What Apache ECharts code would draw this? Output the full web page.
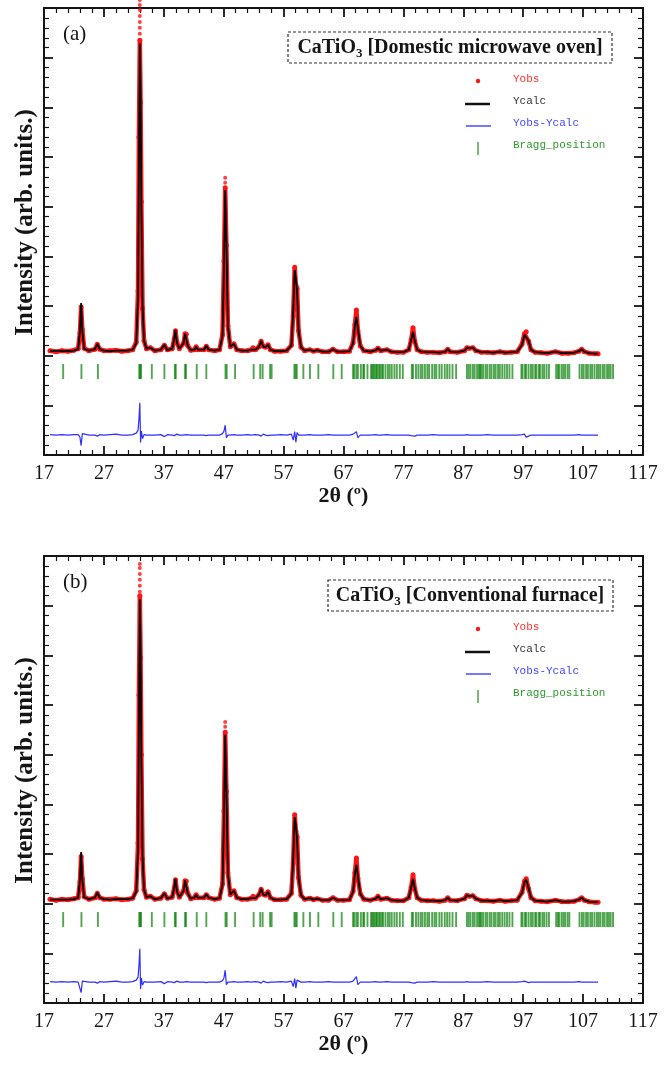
<!DOCTYPE html>
<html>
<head>
<meta charset="utf-8">
<title>CaTiO3 Rietveld refinement</title>
<script src="https://cdn.jsdelivr.net/npm/echarts@6/dist/echarts.min.js"></script>
<style>
  html, body { margin: 0; padding: 0; background: #fff; }
  #chart { width: 667px; height: 1065px; }
</style>
</head>
<body>
<div id="chart"></div>
<script>
// 2theta grid (deg) shared by both patterns
const twoTheta = [
  18.0, 19.0, 20.0, 21.0, 22.0, 22.7, 23.0, 23.2, 23.4, 23.7,
  24.5, 25.5, 25.9, 26.3, 27.0, 28.0, 29.0, 30.0, 31.0, 31.8,
  32.4, 32.7, 32.85, 33.0, 33.12, 33.25, 33.45, 33.7, 34.1, 34.75,
  35.5, 36.5, 37.1, 37.6, 38.4, 38.75, 38.95, 39.2, 39.6, 40.3,
  40.55, 40.75, 41.0, 41.5, 42.1, 42.4, 42.7, 43.7, 44.1, 44.5,
  45.5, 46.3, 46.8, 47.05, 47.25, 47.45, 47.7, 48.1, 48.7, 49.2,
  50.0, 51.0, 51.6, 51.9, 52.3, 52.9, 53.25, 53.6, 54.0, 54.4,
  54.8, 55.5, 56.5, 57.5, 58.3, 58.6, 58.85, 59.05, 59.25, 59.5,
  59.9, 60.5, 61.4, 62.0, 62.6, 63.5, 64.5, 65.25, 66.0, 67.0,
  68.0, 68.6, 68.9, 69.15, 69.4, 69.8, 70.4, 71.5, 72.4, 72.75,
  73.2, 74.25, 75.0, 76.0, 77.0, 77.9, 78.3, 78.6, 78.9, 79.3,
  80.0, 81.0, 82.0, 83.0, 84.0, 84.4, 84.8, 86.0, 87.2, 87.6,
  88.0, 88.6, 89.1, 90.0, 91.0, 92.0, 93.1, 94.0, 95.0, 96.0,
  96.8, 97.2, 97.5, 97.9, 98.3, 99.0, 100.0, 101.0, 102.4, 103.5,
  104.5, 105.5, 106.3, 106.75, 107.2, 108.0, 109.0, 109.5
];

// (a) domestic microwave oven
const yCalcA = [
  2.09, 2.09, 2.09, 2.09, 2.10, 2.13, 2.50, 3.06, 2.50, 2.14,
  2.10, 2.13, 2.24, 2.13, 2.10, 2.09, 2.10, 2.10, 2.10, 2.12,
  2.25, 3.20, 6.00, 8.29, 7.40, 5.00, 3.00, 2.30, 2.14, 2.16,
  2.10, 2.12, 2.22, 2.11, 2.14, 2.35, 2.52, 2.25, 2.14, 2.25,
  2.45, 2.42, 2.20, 2.11, 2.12, 2.18, 2.12, 2.12, 2.20, 2.12,
  2.10, 2.12, 2.40, 3.80, 5.33, 4.30, 2.60, 2.18, 2.24, 2.12,
  2.10, 2.10, 2.12, 2.16, 2.12, 2.18, 2.30, 2.18, 2.17, 2.22,
  2.12, 2.09, 2.09, 2.10, 2.20, 2.90, 3.72, 3.55, 3.30, 2.50,
  2.17, 2.10, 2.12, 2.09, 2.11, 2.08, 2.08, 2.13, 2.08, 2.08,
  2.09, 2.25, 2.60, 2.78, 2.55, 2.20, 2.10, 2.08, 2.11, 2.15,
  2.10, 2.12, 2.08, 2.07, 2.07, 2.12, 2.32, 2.48, 2.30, 2.12,
  2.08, 2.07, 2.07, 2.06, 2.08, 2.13, 2.08, 2.07, 2.10, 2.16,
  2.15, 2.16, 2.10, 2.07, 2.07, 2.06, 2.08, 2.06, 2.07, 2.08,
  2.22, 2.42, 2.46, 2.30, 2.12, 2.07, 2.06, 2.05, 2.08, 2.05,
  2.05, 2.06, 2.09, 2.13, 2.08, 2.05, 2.04, 2.04
];
const yObsA = [
  2.10, 2.08, 2.10, 2.09, 2.11, 2.14, 2.46, 2.98, 2.52, 2.15,
  2.10, 2.13, 2.23, 2.13, 2.10, 2.10, 2.11, 2.09, 2.10, 2.12,
  2.27, 3.30, 6.40, 8.35, 7.10, 5.10, 2.95, 2.30, 2.14, 2.16,
  2.10, 2.12, 2.21, 2.12, 2.14, 2.34, 2.50, 2.26, 2.14, 2.25,
  2.44, 2.43, 2.20, 2.11, 2.12, 2.18, 2.12, 2.12, 2.19, 2.12,
  2.10, 2.12, 2.42, 3.90, 5.38, 4.22, 2.60, 2.18, 2.24, 2.12,
  2.10, 2.10, 2.12, 2.16, 2.12, 2.18, 2.29, 2.19, 2.17, 2.22,
  2.12, 2.09, 2.09, 2.10, 2.21, 2.80, 3.78, 3.42, 3.35, 2.50,
  2.17, 2.10, 2.12, 2.09, 2.11, 2.08, 2.08, 2.13, 2.08, 2.08,
  2.09, 2.26, 2.62, 2.92, 2.50, 2.20, 2.10, 2.08, 2.11, 2.15,
  2.10, 2.12, 2.08, 2.07, 2.07, 2.12, 2.32, 2.56, 2.29, 2.12,
  2.08, 2.07, 2.07, 2.06, 2.08, 2.13, 2.08, 2.07, 2.10, 2.16,
  2.15, 2.16, 2.10, 2.07, 2.07, 2.06, 2.08, 2.06, 2.07, 2.08,
  2.23, 2.44, 2.48, 2.29, 2.12, 2.07, 2.06, 2.05, 2.08, 2.05,
  2.05, 2.06, 2.09, 2.13, 2.08, 2.05, 2.04, 2.04
];
// observed points stacked above the two strongest peak tops
const obsTopA = [
  [33.0, 8.48], [33.0, 8.60], [33.0, 8.72], [33.0, 8.84], [33.0, 8.96], [33.0, 9.06], [33.0, 9.16],
  [47.25, 5.48], [47.25, 5.58]
];
const yDiffA = [
  0.41, 0.40, 0.41, 0.40, 0.41, 0.41, 0.36, 0.19, 0.43, 0.41,
  0.40, 0.40, 0.38, 0.41, 0.40, 0.41, 0.42, 0.40, 0.40, 0.41,
  0.44, 0.50, 0.72, 1.05, 0.25, 0.48, 0.33, 0.41, 0.40, 0.40,
  0.40, 0.41, 0.37, 0.41, 0.40, 0.39, 0.36, 0.42, 0.40, 0.40,
  0.38, 0.41, 0.40, 0.40, 0.40, 0.41, 0.40, 0.40, 0.39, 0.40,
  0.40, 0.40, 0.43, 0.48, 0.60, 0.35, 0.40, 0.40, 0.41, 0.40,
  0.40, 0.41, 0.40, 0.40, 0.41, 0.40, 0.38, 0.42, 0.40, 0.39,
  0.40, 0.40, 0.41, 0.40, 0.42, 0.30, 0.47, 0.26, 0.45, 0.40,
  0.40, 0.40, 0.41, 0.40, 0.40, 0.40, 0.41, 0.40, 0.40, 0.40,
  0.40, 0.42, 0.43, 0.47, 0.35, 0.40, 0.40, 0.40, 0.41, 0.40,
  0.40, 0.41, 0.40, 0.40, 0.40, 0.40, 0.39, 0.42, 0.38, 0.40,
  0.40, 0.40, 0.41, 0.40, 0.40, 0.40, 0.40, 0.40, 0.40, 0.41,
  0.40, 0.40, 0.40, 0.40, 0.41, 0.40, 0.40, 0.40, 0.40, 0.40,
  0.41, 0.42, 0.36, 0.38, 0.40, 0.40, 0.40, 0.40, 0.40, 0.40,
  0.40, 0.40, 0.41, 0.40, 0.40, 0.40, 0.40, 0.40
];

// (b) conventional furnace
const yCalcB = [
  2.08, 2.08, 2.08, 2.08, 2.09, 2.12, 2.48, 3.04, 2.48, 2.13,
  2.09, 2.12, 2.22, 2.12, 2.09, 2.08, 2.09, 2.09, 2.09, 2.11,
  2.24, 3.10, 5.80, 8.13, 7.20, 4.90, 2.95, 2.28, 2.13, 2.15,
  2.09, 2.11, 2.21, 2.10, 2.13, 2.33, 2.50, 2.24, 2.13, 2.26,
  2.47, 2.44, 2.21, 2.10, 2.12, 2.18, 2.12, 2.12, 2.19, 2.12,
  2.09, 2.11, 2.38, 3.75, 5.40, 4.35, 2.62, 2.18, 2.26, 2.12,
  2.09, 2.09, 2.11, 2.15, 2.11, 2.18, 2.30, 2.18, 2.17, 2.24,
  2.12, 2.08, 2.08, 2.09, 2.20, 2.92, 3.74, 3.58, 3.30, 2.52,
  2.17, 2.09, 2.11, 2.08, 2.10, 2.07, 2.07, 2.12, 2.07, 2.07,
  2.08, 2.24, 2.60, 2.78, 2.56, 2.20, 2.09, 2.07, 2.10, 2.15,
  2.09, 2.11, 2.07, 2.06, 2.06, 2.12, 2.33, 2.50, 2.31, 2.12,
  2.07, 2.06, 2.06, 2.05, 2.07, 2.12, 2.07, 2.06, 2.10, 2.17,
  2.15, 2.16, 2.10, 2.06, 2.06, 2.05, 2.07, 2.05, 2.06, 2.07,
  2.22, 2.43, 2.48, 2.31, 2.12, 2.06, 2.05, 2.04, 2.07, 2.04,
  2.04, 2.05, 2.08, 2.12, 2.07, 2.04, 2.03, 2.03
];
const yObsB = [
  2.09, 2.07, 2.09, 2.08, 2.10, 2.12, 2.44, 2.95, 2.50, 2.14,
  2.09, 2.12, 2.21, 2.12, 2.09, 2.09, 2.10, 2.08, 2.09, 2.11,
  2.26, 3.22, 6.20, 8.20, 6.95, 5.00, 2.90, 2.28, 2.13, 2.15,
  2.09, 2.11, 2.20, 2.11, 2.13, 2.32, 2.48, 2.25, 2.13, 2.26,
  2.46, 2.45, 2.21, 2.10, 2.12, 2.18, 2.12, 2.12, 2.18, 2.12,
  2.09, 2.11, 2.40, 3.86, 5.45, 4.26, 2.62, 2.18, 2.26, 2.12,
  2.09, 2.09, 2.11, 2.15, 2.11, 2.18, 2.29, 2.19, 2.17, 2.24,
  2.12, 2.08, 2.08, 2.09, 2.21, 2.82, 3.79, 3.46, 3.34, 2.52,
  2.17, 2.09, 2.11, 2.08, 2.10, 2.07, 2.07, 2.12, 2.07, 2.07,
  2.08, 2.25, 2.62, 2.92, 2.51, 2.20, 2.09, 2.07, 2.10, 2.15,
  2.09, 2.11, 2.07, 2.06, 2.06, 2.12, 2.33, 2.58, 2.30, 2.12,
  2.07, 2.06, 2.06, 2.05, 2.07, 2.12, 2.07, 2.06, 2.10, 2.17,
  2.15, 2.16, 2.10, 2.06, 2.06, 2.05, 2.07, 2.05, 2.06, 2.07,
  2.23, 2.45, 2.50, 2.30, 2.12, 2.06, 2.05, 2.04, 2.07, 2.04,
  2.04, 2.05, 2.08, 2.12, 2.07, 2.04, 2.03, 2.03
];
const obsTopB = [
  [33.0, 8.28], [33.0, 8.40], [33.0, 8.52], [33.0, 8.64], [33.0, 8.76], [33.0, 8.84],
  [47.25, 5.56], [47.25, 5.66]
];
const yDiffB = [
  0.43, 0.42, 0.43, 0.42, 0.43, 0.42, 0.38, 0.21, 0.44, 0.43,
  0.42, 0.42, 0.40, 0.43, 0.42, 0.43, 0.44, 0.42, 0.42, 0.43,
  0.46, 0.52, 0.75, 1.09, 0.28, 0.50, 0.36, 0.43, 0.42, 0.42,
  0.42, 0.43, 0.39, 0.43, 0.42, 0.41, 0.38, 0.44, 0.42, 0.42,
  0.40, 0.43, 0.42, 0.42, 0.42, 0.43, 0.42, 0.42, 0.41, 0.42,
  0.42, 0.42, 0.45, 0.51, 0.66, 0.37, 0.42, 0.42, 0.43, 0.42,
  0.42, 0.43, 0.42, 0.42, 0.43, 0.42, 0.40, 0.44, 0.42, 0.41,
  0.42, 0.42, 0.43, 0.42, 0.44, 0.33, 0.49, 0.30, 0.46, 0.42,
  0.42, 0.42, 0.43, 0.42, 0.42, 0.42, 0.43, 0.42, 0.42, 0.42,
  0.42, 0.44, 0.45, 0.53, 0.37, 0.42, 0.42, 0.42, 0.43, 0.42,
  0.42, 0.43, 0.42, 0.42, 0.42, 0.42, 0.41, 0.44, 0.40, 0.42,
  0.42, 0.42, 0.43, 0.42, 0.42, 0.42, 0.42, 0.42, 0.42, 0.43,
  0.42, 0.42, 0.42, 0.42, 0.43, 0.42, 0.42, 0.42, 0.42, 0.42,
  0.43, 0.44, 0.40, 0.41, 0.42, 0.42, 0.42, 0.42, 0.42, 0.42,
  0.42, 0.42, 0.43, 0.42, 0.42, 0.42, 0.42, 0.42
];

// reflection positions (deg), same phase in both panels
const braggPos = [
  20.2, 23.25, 26.0, 32.9, 33.05, 33.2, 35.0, 37.1, 38.85, 39.0,
  40.55, 40.7, 42.5, 44.1, 47.3, 47.5, 48.9, 52.0, 53.1, 53.5,
  54.75, 55.0, 58.8, 59.0, 59.2, 60.3, 61.4, 62.8, 65.3, 66.7,
  68.6, 68.8, 69.15, 69.4, 69.9, 70.3, 70.45, 71.0, 71.6, 71.8, 72.0, 72.2,
  72.45, 72.6, 72.9, 73.1, 73.4, 73.6, 74.0, 74.4, 74.7,
  75.05, 75.5, 75.9, 76.4, 76.9,
  78.4, 78.6, 79.1, 79.5, 79.9, 80.2, 80.6, 81.0, 81.3, 81.8, 82.2, 82.5,
  83.0, 83.4, 83.9, 84.3, 84.7, 85.2, 85.8,
  87.6, 87.9, 88.2, 88.6, 88.9, 89.3, 89.6, 89.8, 90.0, 90.3, 90.7, 91.0,
  91.4, 91.7, 92.1, 92.4, 92.8, 93.1, 93.5, 93.9, 94.3, 94.7, 95.2,
  96.7, 96.9, 97.3, 97.5, 97.9, 98.3, 98.6, 99.0, 99.2, 99.6, 99.8, 100.2,
  100.5, 100.9, 101.3,
  102.5, 102.8, 103.0, 103.4, 103.7, 104.0, 104.4, 104.7,
  106.4, 106.8, 107.1, 107.5, 107.8, 108.2, 108.5, 108.9, 109.3, 109.6,
  109.9, 110.3, 110.6, 111.0, 111.3, 111.6, 112.0
];
const BRAGG_LEVEL = 1.68;

const xTicks = { min: 17, max: 117, interval: 10 };
const yTicks = { min: 0, max: 9, interval: 1 };

const panels = [
  { tag: '(a)', setup: 'Domestic microwave oven', calc: yCalcA, obs: yObsA, top: obsTopA, diff: yDiffA,
    gridTop: 8, boxX: 288, boxW: 324, titleX: 450 },
  { tag: '(b)', setup: 'Conventional furnace', calc: yCalcB, obs: yObsB, top: obsTopB, diff: yDiffB,
    gridTop: 556, boxX: 328, boxW: 285, titleX: 470 }
];

const SERIF = 'Liberation Serif';
const MONO = 'Liberation Mono';
const INK = '#151515';
const RED = '#ff1414';
const BLUE = '#2f2fff';
const GREEN = 'rgba(0,125,0,0.85)';

const zip = ys => twoTheta.map((x, i) => [x, ys[i]]);

const frameLine = { onZero: false, lineStyle: { color: INK, width: 2 } };
const tickIn = { inside: true, length: 9, lineStyle: { color: INK, width: 1.8 } };
const minorIn = { show: true, splitNumber: 5, length: 5, lineStyle: { color: INK, width: 1.2 } };

const grid = [], xAxis = [], yAxis = [], series = [], graphic = [];

panels.forEach((p, i) => {
  grid.push({ left: 44, width: 599, top: p.gridTop, height: 447 });
  const base = { gridIndex: i, type: 'value', axisLine: frameLine, axisTick: tickIn,
    minorTick: minorIn, splitLine: { show: false } };
  xAxis.push({
    ...base, ...xTicks, position: 'bottom',
    axisLabel: { color: INK, fontFamily: SERIF, fontSize: 20, margin: 9 },
    name: '2θ (º)', nameLocation: 'middle', nameGap: 29,
    nameTextStyle: { color: INK, fontFamily: SERIF, fontWeight: 'bold', fontSize: 22 }
  });
  xAxis.push({ ...base, ...xTicks, position: 'top', axisLabel: { show: false } });
  yAxis.push({
    ...base, ...yTicks, position: 'left', axisLabel: { show: false },
    name: 'Intensity (arb. units.)', nameLocation: 'middle', nameGap: 6,
    nameTextStyle: { color: INK, fontFamily: SERIF, fontWeight: 'bold', fontSize: 25, padding: [0, 0, 0, 18] }
  });
  yAxis.push({ ...base, ...yTicks, position: 'right', axisLabel: { show: false } });

  const ax = { xAxisIndex: 2 * i, yAxisIndex: 2 * i };
  series.push(
    { ...ax, name: 'Yobs', type: 'line', data: zip(p.obs), symbol: 'circle', symbolSize: 5,
      showSymbol: true, itemStyle: { color: RED }, lineStyle: { color: RED, width: 4.5 }, z: 2 },
    { ...ax, name: 'Yobs', type: 'scatter', data: p.top, symbolSize: 4, clip: false,
      itemStyle: { color: RED }, z: 2 },
    { ...ax, name: 'Ycalc', type: 'line', data: zip(p.calc), showSymbol: false,
      lineStyle: { color: '#000', width: 1.8 }, z: 3 },
    { ...ax, name: 'Yobs-Ycalc', type: 'line', data: zip(p.diff), showSymbol: false,
      lineStyle: { color: BLUE, width: 1.2 }, z: 3 },
    { ...ax, name: 'Bragg_position', type: 'scatter', data: braggPos.map(b => [b, BRAGG_LEVEL]),
      symbol: 'rect', symbolSize: [1.9, 15], itemStyle: { color: GREEN }, z: 3 }
  );

  const dy = p.gridTop - 8;
  const mono = (text, y, fill) => ({ type: 'text', x: 513, y: y + dy,
    style: { text, fill, fontFamily: MONO, fontSize: 11, verticalAlign: 'middle' } });
  graphic.push(
    { type: 'text', x: 63, y: 34 + dy,
      style: { text: p.tag, fill: INK, fontFamily: SERIF, fontSize: 21, verticalAlign: 'middle' } },
    { type: 'rect', shape: { x: p.boxX, y: 32 + dy, width: p.boxW, height: 31 },
      style: { fill: 'none', stroke: '#333', lineWidth: 1.2, lineDash: [3, 2] } },
    { type: 'text', x: p.titleX, y: 48 + dy,
      style: {
        text: '{n|CaTiO}{s|3}{n| [' + p.setup + ']}',
        align: 'center', verticalAlign: 'middle',
        rich: {
          n: { fill: INK, fontFamily: SERIF, fontWeight: 'bold', fontSize: 20, lineHeight: 24 },
          s: { fill: INK, fontFamily: SERIF, fontWeight: 'bold', fontSize: 13, lineHeight: 14, verticalAlign: 'bottom' }
        }
      } },
    { type: 'circle', shape: { cx: 478, cy: 81 + dy, r: 2.2 }, style: { fill: RED } },
    mono('Yobs', 79, '#ff3030'),
    { type: 'line', shape: { x1: 465, y1: 104 + dy, x2: 490, y2: 104 + dy }, style: { stroke: '#111', lineWidth: 2.5 } },
    mono('Ycalc', 101, '#333'),
    { type: 'line', shape: { x1: 466, y1: 126 + dy, x2: 491, y2: 126 + dy }, style: { stroke: '#4848ff', lineWidth: 1.5 } },
    mono('Yobs-Ycalc', 123, '#4545ff'),
    { type: 'line', shape: { x1: 478, y1: 142 + dy, x2: 478, y2: 155 + dy }, style: { stroke: '#2e9a2e', lineWidth: 1.3 } },
    mono('Bragg_position', 145, '#2e9a2e')
  );
});

const chart = echarts.init(document.getElementById('chart'));
chart.setOption({
  animation: false,
  backgroundColor: '#fff',
  grid, xAxis, yAxis, series, graphic
});
window.addEventListener('resize', () => chart.resize());
</script>
</body>
</html>
